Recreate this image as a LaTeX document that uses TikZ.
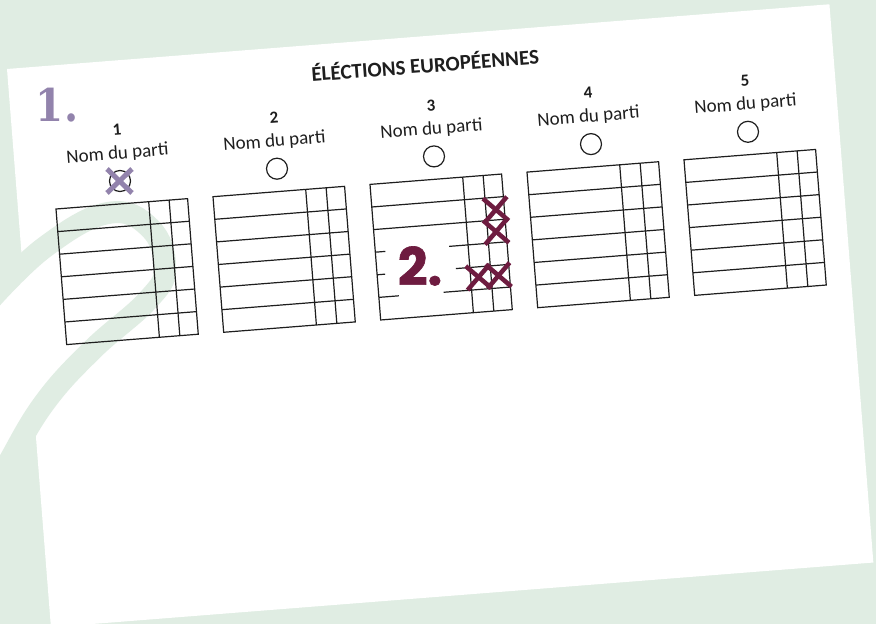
\documentclass[tikz,border=0pt]{standalone}
\usepackage{fontspec}
\setmainfont{Carlito}
\newfontfamily\onefont{DejaVu Serif Condensed}
\newfontfamily\twofont{Poppins}[BoldFeatures={FakeBold=1.2}]
\definecolor{bg}{RGB}{224,237,227}
\definecolor{lilac}{RGB}{146,131,172}
\definecolor{wine}{RGB}{110,28,64}
\definecolor{ink}{RGB}{30,30,30}
\begin{document}
\begin{tikzpicture}[x=1pt,y=-1pt,
  gridline/.style={draw=ink,line width=1.2pt},
  partylabel/.style={font=\fontsize{19}{19}\selectfont, rotate=4.5, inner sep=0pt, text=ink},
  numlabel/.style={font=\fontsize{17}{17}\selectfont\bfseries, rotate=4.5, inner sep=0pt, text=ink},
  titlelabel/.style={font=\fontsize{21}{21}\selectfont\bfseries, rotate=4.5, inner sep=0pt, text=ink},
  votecircle/.style={circle, draw=ink, line width=1.2pt, minimum size=21pt, inner sep=0pt},
  winex/.style={draw=wine, line width=4.5pt},
  lilacx/.style={draw=lilac, line width=5pt},
]
\useasboundingbox (0,0) rectangle (876,624);
\fill[bg] (0,0) rectangle (876,624);
% ballot paper
\fill[white, shift={(7,69)}, rotate=4.5] (0,0) rectangle (825,560);
% white patch between the two arms of the swirl
\fill[white] (-1,291) -- (45,247) -- (90,260) -- (90,380) -- (45,402) -- (-1,478) -- cycle;
% green swirl
\draw[bg, line width=22pt] plot[smooth, tension=0.7] coordinates
  {(-10,300) (45,247) (108,213) (150,228) (165,268) (148,300) (92,350) (45,402) (10,460) (-5,490)};
% title
\node[titlelabel] (title) at (425,64) {ÉLÉCTIONS EUROPÉENNES};
% columns
\foreach \i in {1,...,5} {
  \pgfmathsetmacro\dx{157*(\i-1)}
  \pgfmathsetmacro\dy{-12.3*(\i-1)}
  \node[numlabel] (num\i) at ({117+\dx},{130+\dy}) {\i};
  \node[partylabel] (party\i) at ({117.5+\dx},{154+\dy}) {Nom du parti};
  \node[votecircle] (circ\i) at ({120+\dx},{181+\dy}) {};
  \ifnum\i=3\relax\else
  \begin{scope}[shift={({56+\dx},{209+\dy})}, rotate=4.5]
    \draw[gridline] (0,0) rectangle (132,136);
    \foreach \r in {22.67,45.33,68,90.67,113.33} \draw[gridline] (0,\r) -- (132,\r);
    \draw[gridline] (93,0) -- (93,136);
    \draw[gridline] (113.5,0) -- (113.5,136);
  \end{scope}
  \fi
}
% table 3 with marks
\begin{scope}[shift={(370,184.4)}, rotate=4.5]
  \draw[gridline] (0,0) rectangle (132,136);
  \draw[gridline] (0,22.67) -- (132,22.67);
  \draw[gridline] (0,45.33) -- (132,45.33);
  \draw[gridline] (0,68) -- (10,68);
  \draw[gridline] (74,68) -- (132,68);
  \draw[gridline] (0,90.67) -- (8,90.67);
  \draw[gridline] (79,90.67) -- (132,90.67);
  \draw[gridline] (0,113.33) -- (20,113.33);
  \draw[gridline] (65,113.33) -- (132,113.33);
  \draw[gridline] (93,0) -- (93,136);
  \draw[gridline] (113.5,0) -- (113.5,136);
  \foreach \cx/\cy in {123.5/35, 122/57, 101/101, 121/101} {
    \draw[winex] (\cx-12,\cy-12) -- (\cx+12,\cy+12);
    \draw[winex] (\cx+12,\cy-12) -- (\cx-12,\cy+12);
  }
\end{scope}
% vote mark on circle 1
\draw[lilacx] (107,169) -- (132,193);
\draw[lilacx] (132,169) -- (107,193);
% step numbers
\node[text=lilac, font=\onefont\bfseries\fontsize{45}{45}\selectfont, inner sep=0pt] (stepone) at (57,105) {1.};
\node[text=wine, font=\twofont\bfseries\fontsize{52}{52}\selectfont, inner sep=0pt] (steptwo) at (420,266) {2.};
\end{tikzpicture}
\end{document}
